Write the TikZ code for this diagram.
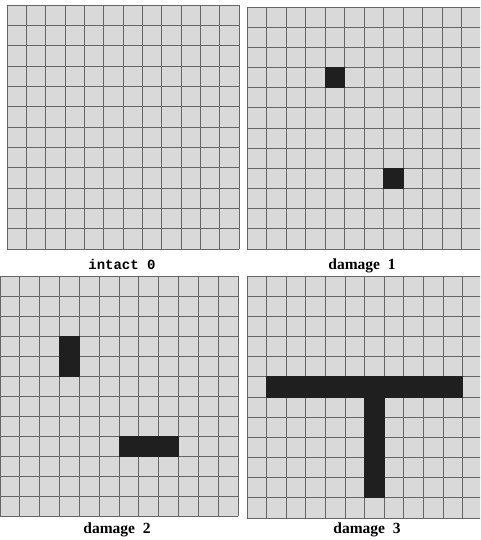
\documentclass[tikz,border=0pt]{standalone}
\usepackage{fontspec}
\newfontfamily\labelmono{Liberation Mono}
\newfontfamily\labelserif{Liberation Serif}
\definecolor{cellbg}{gray}{0.85}
\definecolor{gridln}{gray}{0.40}
\definecolor{damagefill}{gray}{0.12}
\tikzset{
  cellfill/.style={fill=cellbg},
  gridline/.style={draw=gridln, line width=0.8pt},
  dmg/.style={fill=damagefill, draw=damagefill, line width=0.8pt},
  monolabel/.style={anchor=base, inner sep=0pt, font=\labelmono\bfseries\fontsize{14}{16}\selectfont},
  seriflabel/.style={anchor=base, inner sep=0pt, font=\labelserif\bfseries\fontsize{15.5}{18}\selectfont},
}
\begin{document}
\begin{tikzpicture}[x=1pt, y=-1pt]
\useasboundingbox (0,0) rectangle (480,540);
\clip (0,0) rectangle (480,540);

% panel: intact 0
\begin{scope}[shift={(7,5)}, x=19.33pt, y=-20.33pt]
  \fill[cellfill] (0,0) rectangle (12,12);
  \foreach \i in {0,...,12} {
    \draw[gridline] (\i,0) -- (\i,12);
    \draw[gridline] (0,\i) -- (12,\i);
  }
\end{scope}

% panel: damage 1
\begin{scope}[shift={(247,7)}, x=19.5pt, y=-20.17pt]
  \fill[cellfill] (0,0) rectangle (12,12);
  \foreach \i in {0,...,12} {
    \draw[gridline] (\i,0) -- (\i,12);
    \draw[gridline] (0,\i) -- (12,\i);
  }
  \filldraw[dmg] (4,3) rectangle (5,4);
  \filldraw[dmg] (7,8) rectangle (8,9);
\end{scope}

% panel: damage 2
\begin{scope}[shift={(0,276)}, x=19.83pt, y=-20pt]
  \fill[cellfill] (0,0) rectangle (12,12);
  \foreach \i in {0,...,12} {
    \draw[gridline] (\i,0) -- (\i,12);
    \draw[gridline] (0,\i) -- (12,\i);
  }
  \filldraw[dmg] (3,3) rectangle (4,5);
  \filldraw[dmg] (6,8) rectangle (9,9);
\end{scope}

% panel: damage 3
\begin{scope}[shift={(247,276)}, x=19.6pt, y=-20.17pt]
  \fill[cellfill] (0,0) rectangle (12,12);
  \foreach \i in {0,...,12} {
    \draw[gridline] (\i,0) -- (\i,12);
    \draw[gridline] (0,\i) -- (12,\i);
  }
  \filldraw[dmg] (1,5) rectangle (11,6);
  \filldraw[dmg] (6,6) rectangle (7,11);
\end{scope}

\node[monolabel]  (lab0) at (122,269.5) {intact 0};
\node[seriflabel] (lab1) at (362,269)   {damage\enspace 1};
\node[seriflabel] (lab2) at (117,533)   {damage\enspace 2};
\node[seriflabel] (lab3) at (367,533)   {damage\enspace 3};
\end{tikzpicture}
\end{document}
